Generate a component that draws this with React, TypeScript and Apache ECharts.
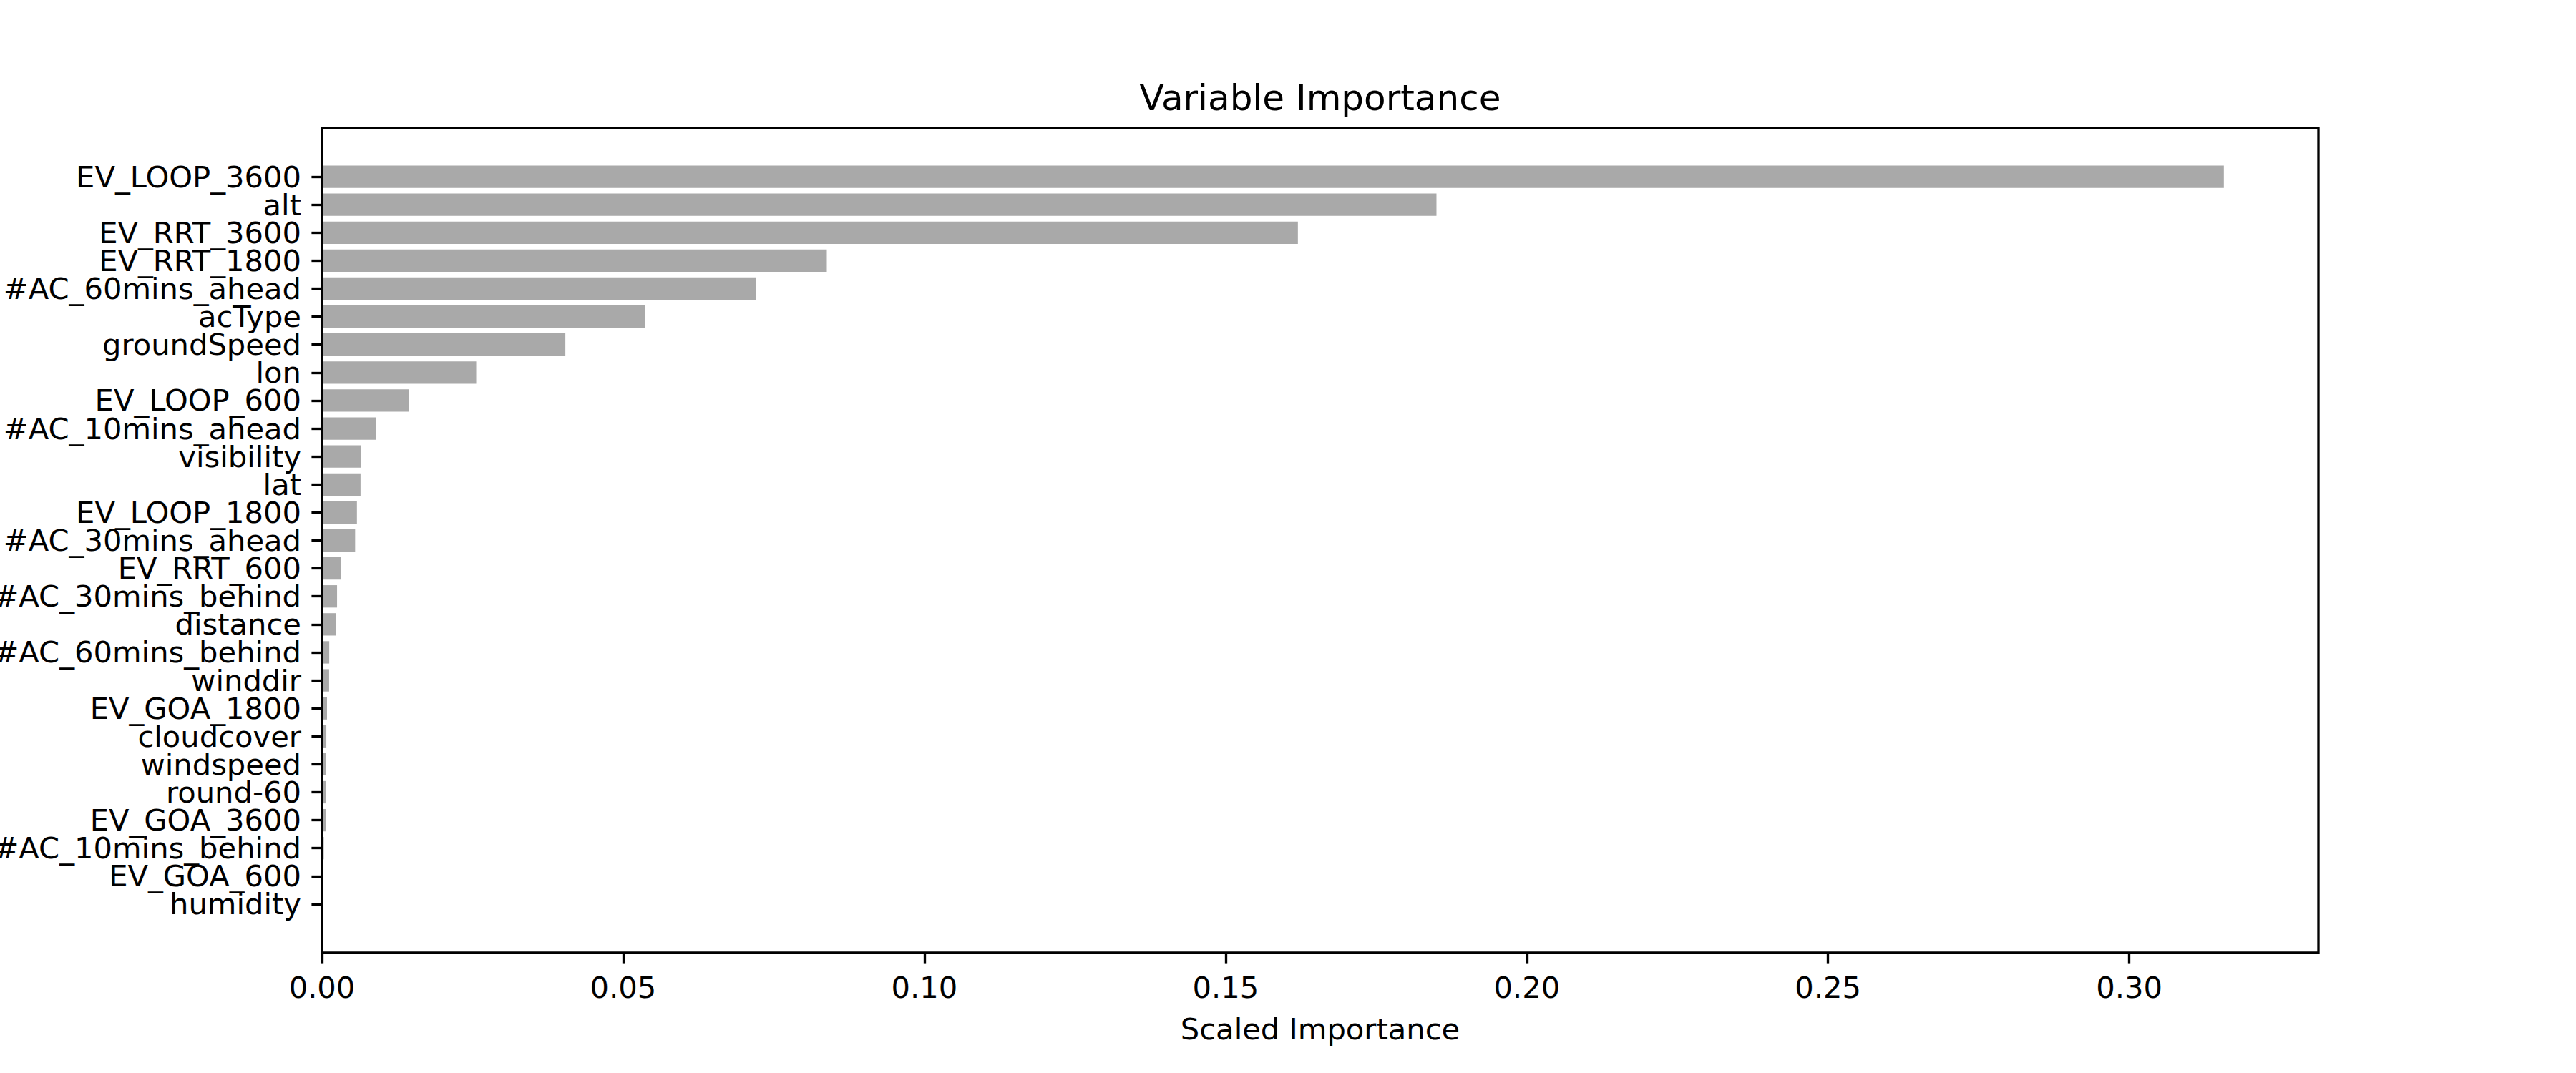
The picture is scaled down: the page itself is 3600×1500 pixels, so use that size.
import React, { useEffect, useRef } from "react";
import * as echarts from "echarts";

const categories = [
  "EV_LOOP_3600", "alt", "EV_RRT_3600", "EV_RRT_1800", "#AC_60mins_ahead", "acType",
  "groundSpeed", "lon", "EV_LOOP_600", "#AC_10mins_ahead", "visibility", "lat",
  "EV_LOOP_1800", "#AC_30mins_ahead", "EV_RRT_600", "#AC_30mins_behind", "distance",
  "#AC_60mins_behind", "winddir", "EV_GOA_1800", "cloudcover", "windspeed", "round-60",
  "EV_GOA_3600", "#AC_10mins_behind", "EV_GOA_600", "humidity",
];

const importance = [
  0.3157, 0.185, 0.162, 0.0838, 0.072, 0.0536,
  0.0404, 0.0256, 0.0144, 0.009, 0.0065, 0.0064,
  0.0058, 0.0055, 0.0032, 0.0025, 0.0023,
  0.0012, 0.00118, 0.00083, 0.00072, 0.00071, 0.00068,
  0.0006, 0.0003, 0.00005, 0,
];

const xTicks = [0, 0.05, 0.1, 0.15, 0.2, 0.25, 0.3];
const xMax = 0.3314;

const FONT = '"DejaVu Sans", "Liberation Sans", sans-serif';

export default function App() {
  const ref = useRef<HTMLDivElement>(null);
  useEffect(() => {
    if (!ref.current) return;
    const chart = echarts.init(ref.current, undefined, { renderer: "svg" });
    const lw = 3.33;
    const tickLen = 14.6;
    chart.setOption({
      animation: false,
      backgroundColor: "#ffffff",
      textStyle: { fontFamily: FONT },
      grid: {
        left: 450,
        right: 360,
        top: 227.5,
        bottom: 216.5,
        containLabel: false,
        outerBoundsMode: "none",
      },
      xAxis: {
        type: "value",
        min: 0,
        max: xMax,
        interval: 0.05,
        offset: 48.5,
        axisLine: { show: false },
        splitLine: { show: false },
        axisTick: {
          show: true,
          length: tickLen,
          customValues: xTicks,
          lineStyle: { color: "#000", width: lw },
        },
        axisLabel: {
          customValues: xTicks,
          formatter: (v: number) => v.toFixed(2),
          margin: 27,
          fontSize: 41.67,
          color: "#000",
          fontFamily: FONT,
        },
      },
      yAxis: {
        type: "category",
        data: categories,
        inverse: true,
        axisLine: { show: false },
        splitLine: { show: false },
        axisTick: {
          show: true,
          alignWithLabel: true,
          length: tickLen,
          lineStyle: { color: "#000", width: lw },
        },
        axisLabel: {
          margin: 29,
          fontSize: 41.67,
          color: "#000",
          fontFamily: FONT,
          interval: 0,
        },
      },
      series: [
        {
          type: "bar",
          data: importance,
          barWidth: "80%",
          itemStyle: { color: "#a9a9a9" },
          z: 2,
        },
      ],
      graphic: [
        {
          type: "rect",
          z: 100,
          silent: true,
          shape: { x: 450, y: 179, width: 2790, height: 1153 },
          style: { fill: "none", stroke: "#000", lineWidth: lw },
        },
        {
          type: "text",
          z: 100,
          x: 1845,
          y: 137,
          style: {
            text: "Variable Importance",
            fontSize: 50,
            fontFamily: FONT,
            fill: "#000",
            align: "center",
            verticalAlign: "middle",
          },
        },
        {
          type: "text",
          z: 100,
          x: 1845,
          y: 1438,
          style: {
            text: "Scaled Importance",
            fontSize: 41.67,
            fontFamily: FONT,
            fill: "#000",
            align: "center",
            verticalAlign: "middle",
          },
        },
      ],
    });
    return () => chart.dispose();
  }, []);
  return (
    <div
      ref={ref}
      style={{ position: "fixed", left: 0, top: 0, width: 3600, height: 1500, background: "#fff" }}
    />
  );
}
